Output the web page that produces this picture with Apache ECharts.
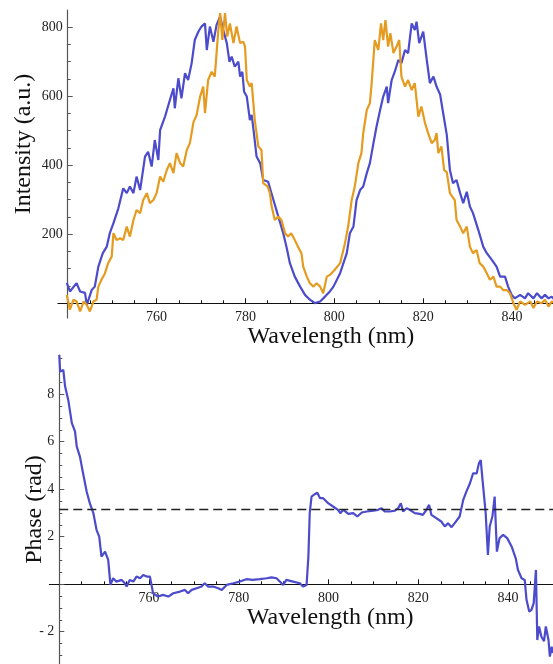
<!DOCTYPE html>
<html>
<head>
<meta charset="utf-8">
<script src="https://cdn.jsdelivr.net/npm/echarts@6/dist/echarts.min.js"></script>
<style>
html,body{margin:0;padding:0;background:#fff;}
#c{width:553px;height:664px;}
</style>
</head>
<body>
<div id="c"></div>
<script>
// ---- data ----
const blueWl = [739.8,740.5,742,742.8,743.9,744.3,745.4,746.1,746.9,747.9,748.8,749.5,750.3,751.4,752.5,753.3,754,754.8,755.5,756.3,757.4,758.1,758.9,759.6,760.4,760.8,761.9,763,763.8,764.1,764.9,765.6,766.4,767.1,767.9,768.6,769.4,770.1,770.9,771.3,772,772.8,773.5,774.3,775,775.8,776.4,776.9,777.6,778.4,778.8,779.3,779.7,780.3,780.6,781,781.4,781.9,782.5,783.3,784,785.1,785.5,786.3,787.4,788.5,789.3,790,791.1,792.3,793.4,794.5,795.6,796.8,797.9,799,799.8,801.3,802.8,803.5,804.3,805,805.8,806.5,807.3,808,808.8,809.5,810.3,811,811.8,812.1,812.9,813.6,814.4,815.1,815.9,816.6,817.4,818.1,818.5,819.1,820,820.8,821.5,822.3,823,823.8,824.5,825.3,826,826.7,827.5,828.3,829,829.8,830.5,831.2,832.4,833.5,834.3,835.4,836.5,837.3,838.4,839.1,839.9,840.6,841.8,842.9,843.6,844.8,845.6,846.6,847.4,848.2,848.9,849.5];
const blueInt = [59,34,58,34,30,-5,38,48,106,145,164,204,232,275,333,319,338,319,367,328,425,439,396,473,415,502,541,589,623,565,652,594,667,647,696,763,787,802,811,734,802,758,807,831,792,754,700,715,686,700,657,671,613,599,570,531,546,493,425,406,357,352,357,299,251,203,159,116,77,48,24,10,0,5,19,34,48,87,145,203,222,299,328,338,377,406,464,512,560,599,628,580,647,671,705,696,734,725,811,792,816,754,787,705,638,657,628,605,550,488,386,348,357,319,290,323,280,261,212,164,145,126,106,77,77,48,24,14,24,14,29,14,29,14,24,14,19,10];

const orangeWl = [739.8,740.5,741.3,742,742.8,743.6,744.3,745,745.8,746.5,746.9,747.6,748.4,749.1,749.9,750.3,751,751.8,752.5,753.3,754,754.8,755.5,756.3,757,757.8,758.5,759.3,760,760.8,761.5,762.3,763,763.8,764.5,765.3,766,766.8,767.5,768.3,769,769.8,770.5,770.9,771.6,772.4,773.1,773.5,773.9,774.3,774.8,775.4,775.9,776.5,777.3,778,778.8,779.5,779.9,780.3,781,781.4,782.1,782.9,783.6,784,785,785.5,785.9,786.6,787.4,788.1,788.9,789.6,790.3,791.1,791.8,792.6,793,793.8,794.5,795.3,796,796.8,797.5,798.3,799,800.1,801.3,802.4,803.1,803.9,804.6,805.4,806.1,806.5,807.3,808,808.4,809.1,809.9,810.5,811,811.5,812.1,812.6,813.3,814,814.6,815.1,815.9,816.6,817.4,818.1,818.9,819.6,820.4,821.1,821.9,822.6,823,823.4,824.1,824.7,825.3,826,826.4,827.1,827.5,828.3,829,829.8,830.5,831.2,832,832.7,833.5,834.3,835,835.8,836.5,837.3,838,838.8,839.5,840.3,841,841.8,842.9,844.1,844.8,845.6,846.6,847.4,848.2,848.9,849.5];
const orangeInt = [24,-19,10,5,-24,5,-5,-24,5,10,48,68,87,116,135,203,183,188,183,222,193,241,270,261,299,319,290,299,319,367,352,386,406,377,435,406,396,444,464,525,545,599,628,551,647,671,657,725,792,841,763,841,773,811,754,802,754,758,744,647,628,638,531,454,444,348,338,319,280,241,251,241,203,193,203,183,164,145,106,77,58,48,58,48,29,77,82,97,116,174,222,299,338,406,435,493,560,580,638,763,734,811,763,821,744,783,725,744,763,657,628,647,618,638,541,570,522,493,464,473,493,435,454,386,380,319,319,299,241,222,203,222,164,145,154,116,106,87,68,77,48,48,38,38,29,0,-19,5,-5,5,-14,5,0,10,-10,5,0];

const phaseWl = [740,740.2,740.9,741.3,742,742.8,743.5,743.9,744.6,745.3,746.1,746.8,747.6,748.3,748.9,749.4,750.2,750.9,751.4,752,752.7,753.9,754.6,755,755.7,756.5,757.2,758,758.7,759.5,760.2,760.9,762,763.1,764.3,765.4,766.9,768,768.7,769.5,770.6,771.7,772.4,773.2,774.3,775.4,776.2,777.3,778.8,780.2,781.7,783.1,784.7,786.2,787.3,788.4,789.9,790.6,792.1,793.6,794.3,795.1,795.5,795.8,796.2,797,797.5,798.1,798.8,799.9,801,802.1,802.6,803.3,804.4,805.5,806.4,807.4,808.5,810,811,811.8,812.5,813.6,814.8,815.5,816.1,816.6,817.4,818.1,819.2,820.3,821,821.8,822.4,822.9,824,825.1,825.9,826.6,827.4,828.1,829.2,830,830.7,831.5,832.2,833,833.5,833.9,834.3,834.6,835,835.5,835.9,836.5,837,837.2,837.5,838.1,838.9,839.8,840.8,841.7,842.2,843,843.7,844.1,844.7,845.2,845.7,846.2,846.5,846.9,847.4,848,848.4,849,849.3,849.7,850];
const phaseVal = [9.65,8.95,9.02,8.32,7.76,6.78,6.43,5.79,5.37,4.67,3.9,3.41,2.99,2.29,2.0,1.16,1.37,1.02,-0.03,0.25,0.11,0.18,0.04,-0.1,0.18,0.11,0.32,0.25,0.39,0.32,0.32,-0.38,-0.52,-0.45,-0.52,-0.38,-0.31,-0.24,-0.38,-0.24,-0.17,-0.1,0.04,-0.1,-0.1,-0.17,-0.24,-0.03,0.04,0.11,0.21,0.18,0.21,0.25,0.29,0.25,-0.03,0.18,0.11,0.04,-0.1,-0.03,1.16,2.99,3.69,3.8,3.85,3.62,3.62,3.41,3.27,3.13,2.99,3.13,2.96,2.99,2.85,3.02,3.06,3.1,3.13,3.2,3.06,3.06,3.1,3.2,3.41,3.06,3.2,3.13,2.99,2.96,2.92,3.13,3.34,2.92,2.78,2.64,2.43,2.57,2.4,2.57,2.85,3.55,3.9,4.25,4.67,4.67,5.09,5.23,4.39,4.39,2.99,1.23,2.43,2.85,3.69,3.76,1.37,1.94,2.08,1.94,1.58,1.09,0.6,0.25,0.18,-0.66,-1.15,-1.08,-0.8,0.6,-2.35,-1.78,-2.2,-2.4,-1.78,-2.35,-3.05,-2.63,-2.9];

const topXLabels = [760,780,800,820,840];
const topXMinor = [745,750,755,765,770,775,785,790,795,805,810,815,825,830,835,845];
const topYLabels = [200,400,600,800];
const topYMinor = [50,100,150,250,300,350,450,500,550,650,700,750];
const botXLabels = [760,780,800,820,840];
const botYLabels = [-2,2,4,6,8];
const botYMajor = [-2,0,2,4,6,8];
const botYMinor = [-3,-2.5,-1.5,-1,-0.5,0.5,1,1.5,2.5,3,3.5,4.5,5,5.5,6.5,7,7.5,8.5,9,9.5];
const referencePhase = Math.PI;

// ---- chart ----
const zip = (a, b) => a.map((v, i) => [v, b[i]]);
const FONT = '"Liberation Serif", "Times New Roman", serif';
const X0 = 737.8;
const xAxisLine = '#111', yAxisLine = '#555', labelColor = '#222';

// x axis sits on the y = 0 line: offset (px, negative = upward) from the grid bottom
function xAx(grid, max, offset, major, labels, minor, isMinor, name, namePad) {
  return {
    type: 'value', gridIndex: grid, min: X0, max: max, position: 'bottom', offset: offset,
    axisLine: { show: !isMinor, onZero: false, lineStyle: { color: xAxisLine, width: 1.2 } },
    axisTick: { show: true, inside: true, length: isMinor ? 3 : 5, customValues: isMinor ? minor : major,
                lineStyle: { color: xAxisLine, width: 1 } },
    axisLabel: isMinor ? { show: false } : { show: true, customValues: labels, margin: 7,
                color: labelColor, fontFamily: FONT, fontSize: 14 },
    splitLine: { show: false },
    name: isMinor ? '' : name, nameLocation: 'middle', nameGap: 21, nameMoveOverlap: false,
    nameTextStyle: { fontFamily: FONT, fontSize: 24, color: '#111', padding: namePad }
  };
}
function yAx(grid, min, max, offset, major, labels, minor, isMinor, name, gap, namePad, fmt) {
  return {
    type: 'value', gridIndex: grid, min: min, max: max, position: 'left', offset: offset,
    axisLine: { show: !isMinor, onZero: false, lineStyle: { color: yAxisLine, width: 1.2 } },
    axisTick: { show: true, inside: true, length: isMinor ? 3 : 5, customValues: isMinor ? minor : major,
                lineStyle: { color: yAxisLine, width: 1 } },
    axisLabel: isMinor ? { show: false } : { show: true, customValues: labels, margin: 5,
                color: labelColor, fontFamily: FONT, fontSize: 14, formatter: fmt },
    splitLine: { show: false },
    name: isMinor ? '' : name, nameLocation: 'middle', nameGap: gap, nameMoveOverlap: false,
    nameTextStyle: { fontFamily: FONT, fontSize: 24, color: '#111', padding: namePad }
  };
}
const negFmt = v => (v < 0 ? '- ' + Math.abs(v) : String(v));

const option = {
  animation: false,
  backgroundColor: '#fff',
  grid: [
    { left: 57.9, top: 10, width: 495.1, height: 308, outerBoundsMode: 'none', containLabel: false },
    { left: 49.4, top: 355, width: 503.6, height: 309, outerBoundsMode: 'none', containLabel: false }
  ],
  xAxis: [
    xAx(0, 849.2, -14.7, topXLabels, topXLabels, topXMinor, false, 'Wavelength (nm)', [0, 0, 0, 51]),
    xAx(0, 849.2, -14.7, topXLabels, topXLabels, topXMinor, true),
    xAx(1, 850, -79.7, botXLabels, botXLabels, topXMinor, false, 'Wavelength (nm)', [0, 0, 0, 58]),
    xAx(1, 850, -79.7, botXLabels, botXLabels, topXMinor, true)
  ],
  yAxis: [
    yAx(0, -43, 850, -9.8, [0].concat(topYLabels), topYLabels, topYMinor, false, 'Intensity (a.u.)', 32, [0, 0, 0, 40]),
    yAx(0, -43, 850, -9.8, topYLabels, topYLabels, topYMinor, true),
    yAx(1, -3.36, 9.65, -9.9, botYMajor, botYLabels, botYMinor, false, 'Phase (rad)', 13, [0, 0, 0, 0], negFmt),
    yAx(1, -3.36, 9.65, -9.9, botYMajor, botYLabels, botYMinor, true)
  ],
  series: [
    { type: 'line', xAxisIndex: 0, yAxisIndex: 0, data: zip(blueWl, blueInt), showSymbol: false,
      lineStyle: { color: '#4b4bcc', width: 2.2 }, itemStyle: { color: '#4b4bcc' } },
    { type: 'line', xAxisIndex: 0, yAxisIndex: 0, data: zip(orangeWl, orangeInt), showSymbol: false,
      lineStyle: { color: '#e59b1f', width: 2.2 }, itemStyle: { color: '#e59b1f' } },
    { type: 'line', xAxisIndex: 2, yAxisIndex: 2, data: zip(phaseWl, phaseVal), showSymbol: false,
      lineStyle: { color: '#4b4bcc', width: 2.2 }, itemStyle: { color: '#4b4bcc' },
      markLine: { silent: true, symbol: 'none', label: { show: false },
        lineStyle: { color: '#222', type: [9, 5], width: 1.3 },
        data: [[{ coord: [740, referencePhase] }, { coord: [850, referencePhase] }]] } }
  ]
};
const chart = echarts.init(document.getElementById('c'), null, { renderer: 'canvas' });
chart.setOption(option);
</script>
</body>
</html>
